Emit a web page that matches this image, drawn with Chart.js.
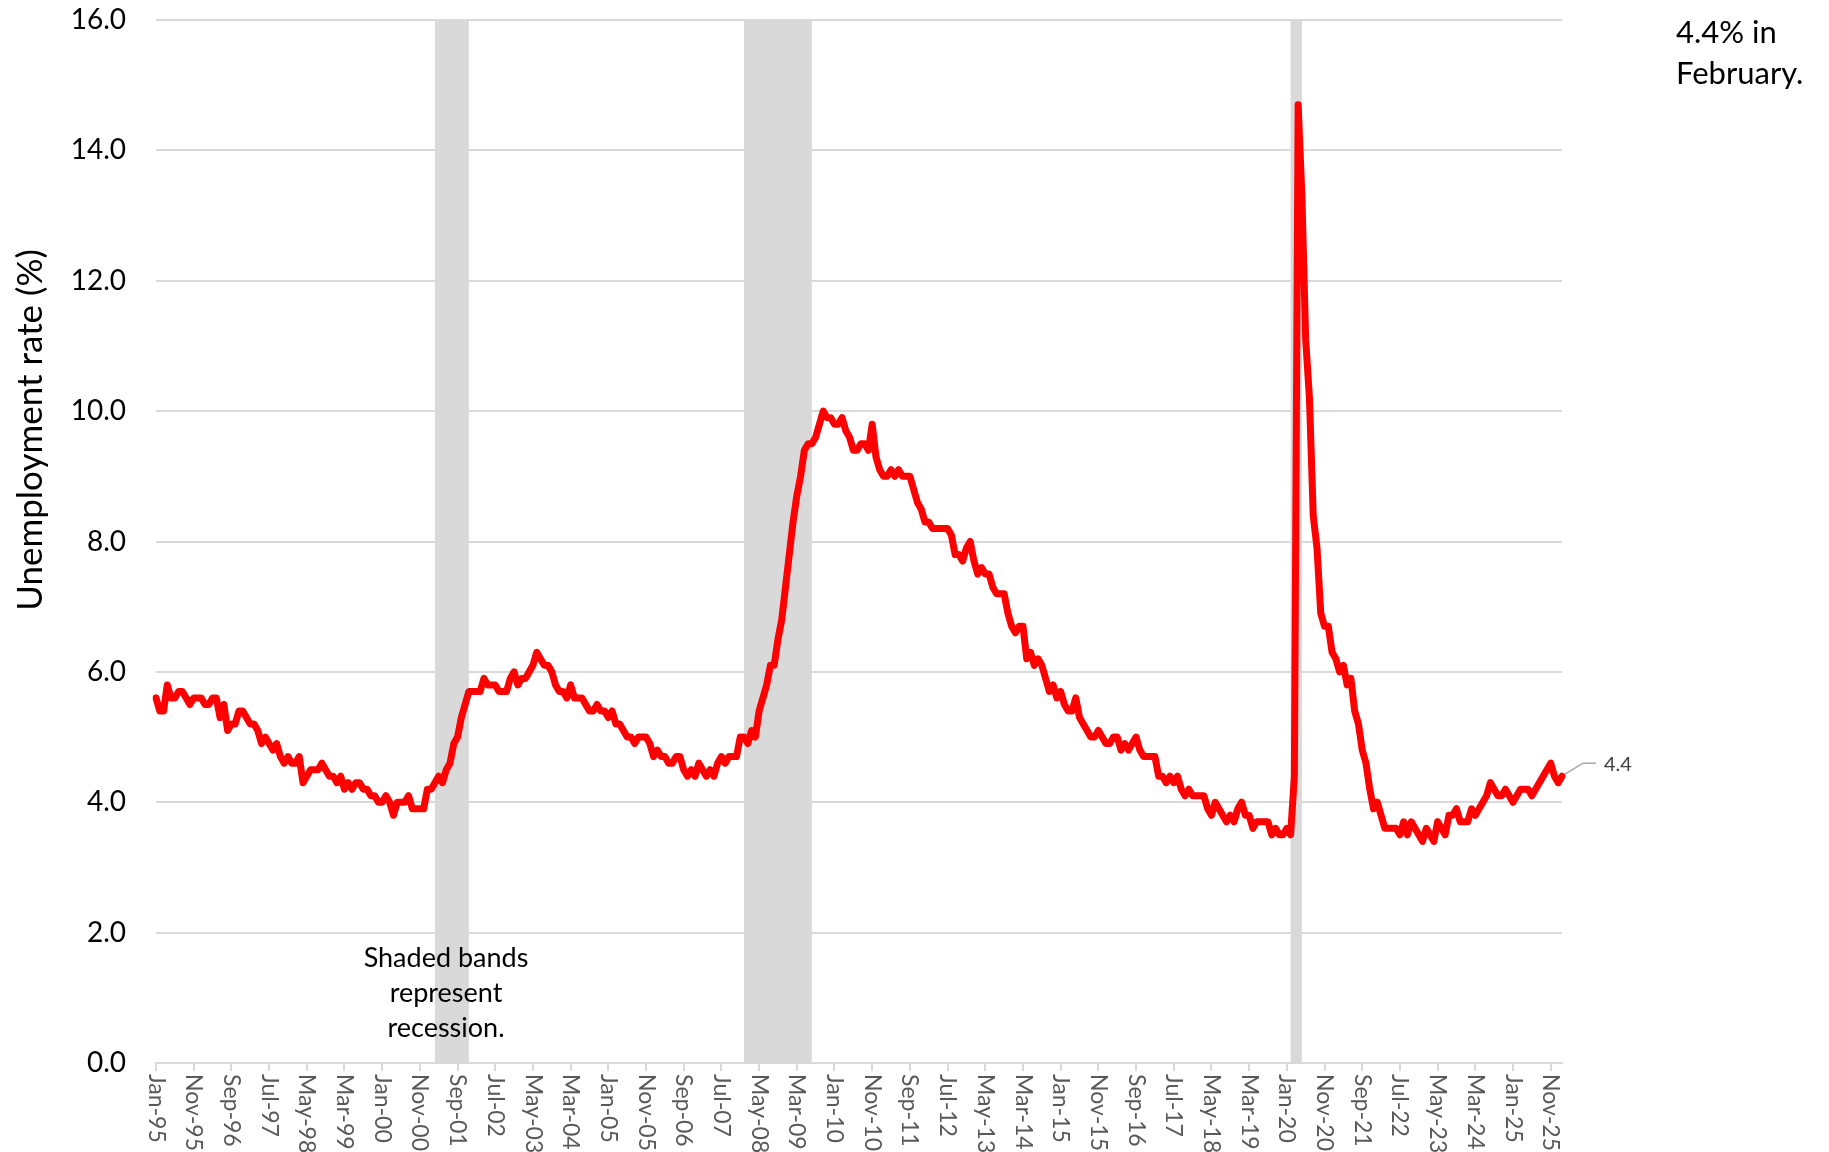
<!DOCTYPE html>
<html lang="en">
<head>
<meta charset="UTF-8">
<title>Unemployment rate</title>
<script src="https://cdn.jsdelivr.net/npm/chart.js"></script>
<style>
    body { margin: 0; background: #fff; overflow: hidden; }
    #chart { display: block; }
</style>
</head>
<body>
<canvas id="chart" width="1829" height="1152"></canvas>
<script>
// month names + first year, categories run Jan-95 .. Feb-26
const monthNames = ['Jan','Feb','Mar','Apr','May','Jun','Jul','Aug','Sep','Oct','Nov','Dec'];
const firstYear = 1995;

// unemployment rate (%), one row per year
const rates = [
    5.6, 5.4, 5.4, 5.8, 5.6, 5.6, 5.7, 5.7, 5.6, 5.5, 5.6, 5.6,   // 1995
    5.6, 5.5, 5.5, 5.6, 5.6, 5.3, 5.5, 5.1, 5.2, 5.2, 5.4, 5.4,   // 1996
    5.3, 5.2, 5.2, 5.1, 4.9, 5.0, 4.9, 4.8, 4.9, 4.7, 4.6, 4.7,   // 1997
    4.6, 4.6, 4.7, 4.3, 4.4, 4.5, 4.5, 4.5, 4.6, 4.5, 4.4, 4.4,   // 1998
    4.3, 4.4, 4.2, 4.3, 4.2, 4.3, 4.3, 4.2, 4.2, 4.1, 4.1, 4.0,   // 1999
    4.0, 4.1, 4.0, 3.8, 4.0, 4.0, 4.0, 4.1, 3.9, 3.9, 3.9, 3.9,   // 2000
    4.2, 4.2, 4.3, 4.4, 4.3, 4.5, 4.6, 4.9, 5.0, 5.3, 5.5, 5.7,   // 2001
    5.7, 5.7, 5.7, 5.9, 5.8, 5.8, 5.8, 5.7, 5.7, 5.7, 5.9, 6.0,   // 2002
    5.8, 5.9, 5.9, 6.0, 6.1, 6.3, 6.2, 6.1, 6.1, 6.0, 5.8, 5.7,   // 2003
    5.7, 5.6, 5.8, 5.6, 5.6, 5.6, 5.5, 5.4, 5.4, 5.5, 5.4, 5.4,   // 2004
    5.3, 5.4, 5.2, 5.2, 5.1, 5.0, 5.0, 4.9, 5.0, 5.0, 5.0, 4.9,   // 2005
    4.7, 4.8, 4.7, 4.7, 4.6, 4.6, 4.7, 4.7, 4.5, 4.4, 4.5, 4.4,   // 2006
    4.6, 4.5, 4.4, 4.5, 4.4, 4.6, 4.7, 4.6, 4.7, 4.7, 4.7, 5.0,   // 2007
    5.0, 4.9, 5.1, 5.0, 5.4, 5.6, 5.8, 6.1, 6.1, 6.5, 6.8, 7.3,   // 2008
    7.8, 8.3, 8.7, 9.0, 9.4, 9.5, 9.5, 9.6, 9.8, 10.0, 9.9, 9.9,  // 2009
    9.8, 9.8, 9.9, 9.7, 9.6, 9.4, 9.4, 9.5, 9.5, 9.4, 9.8, 9.3,   // 2010
    9.1, 9.0, 9.0, 9.1, 9.0, 9.1, 9.0, 9.0, 9.0, 8.8, 8.6, 8.5,   // 2011
    8.3, 8.3, 8.2, 8.2, 8.2, 8.2, 8.2, 8.1, 7.8, 7.8, 7.7, 7.9,   // 2012
    8.0, 7.7, 7.5, 7.6, 7.5, 7.5, 7.3, 7.2, 7.2, 7.2, 6.9, 6.7,   // 2013
    6.6, 6.7, 6.7, 6.2, 6.3, 6.1, 6.2, 6.1, 5.9, 5.7, 5.8, 5.6,   // 2014
    5.7, 5.5, 5.4, 5.4, 5.6, 5.3, 5.2, 5.1, 5.0, 5.0, 5.1, 5.0,   // 2015
    4.9, 4.9, 5.0, 5.0, 4.8, 4.9, 4.8, 4.9, 5.0, 4.8, 4.7, 4.7,   // 2016
    4.7, 4.7, 4.4, 4.4, 4.3, 4.4, 4.3, 4.4, 4.2, 4.1, 4.2, 4.1,   // 2017
    4.1, 4.1, 4.1, 3.9, 3.8, 4.0, 3.9, 3.8, 3.7, 3.8, 3.7, 3.9,   // 2018
    4.0, 3.8, 3.8, 3.6, 3.7, 3.7, 3.7, 3.7, 3.5, 3.6, 3.5, 3.5,   // 2019
    3.6, 3.5, 4.4, 14.7, 13.3, 11.1, 10.2, 8.4, 7.9, 6.9, 6.7, 6.7, // 2020
    6.3, 6.2, 6.0, 6.1, 5.8, 5.9, 5.4, 5.2, 4.8, 4.6, 4.2, 3.9,   // 2021
    4.0, 3.8, 3.6, 3.6, 3.6, 3.6, 3.5, 3.7, 3.5, 3.7, 3.6, 3.5,   // 2022
    3.4, 3.6, 3.5, 3.4, 3.7, 3.6, 3.5, 3.8, 3.8, 3.9, 3.7, 3.7,   // 2023
    3.7, 3.9, 3.8, 3.9, 4.0, 4.1, 4.3, 4.2, 4.1, 4.1, 4.2, 4.1,   // 2024
    4.0, 4.1, 4.2, 4.2, 4.2, 4.1, 4.2, 4.3, 4.4, null, 4.6, 4.4,  // 2025 (no Oct release)
    4.3, 4.4                                                      // 2026
];

// recession bands, as category labels (start, end)
const recessionStart = ['Mar-01', 'Jan-08', 'Feb-20'];
const recessionEnd   = ['Dec-01', 'Jul-09', 'May-20'];

const labelEvery = 10;   // one x label every 10 months

const labels = rates.map((v, i) => {
    const yr = (firstYear + Math.floor(i / 12)) % 100;
    return monthNames[i % 12] + '-' + String(yr).padStart(2, '0');
});

const FONT = 'Lato, "Open Sans", "DejaVu Sans", sans-serif';
Chart.defaults.font.family = FONT;

const extras = {
    id: 'extras',
    beforeDatasetsDraw(chart) {
        const { ctx, chartArea, scales: { x } } = chart;
        ctx.save();
        ctx.fillStyle = '#d9d9d9';
        recessionStart.forEach((s, k) => {
            const x0 = x.getPixelForValue(labels.indexOf(s));
            const x1 = x.getPixelForValue(labels.indexOf(recessionEnd[k]));
            ctx.fillRect(x0, chartArea.top, x1 - x0, chartArea.bottom - chartArea.top);
        });
        ctx.restore();
    },
    afterDraw(chart) {
        const { ctx, chartArea, scales: { x, y } } = chart;
        ctx.save();

        // x labels, reading top to bottom
        ctx.fillStyle = '#595959';
        ctx.font = '23px ' + FONT;
        ctx.textAlign = 'left';
        ctx.textBaseline = 'middle';
        labels.forEach((lab, i) => {
            if (i % labelEvery) return;
            ctx.save();
            ctx.translate(x.getPixelForValue(i), chartArea.bottom + 11);
            ctx.rotate(Math.PI / 2);
            ctx.fillText(lab, 0, 0);
            ctx.restore();
        });

        // y title
        ctx.fillStyle = '#000';
        ctx.font = '35px ' + FONT;
        ctx.save();
        ctx.translate(31, 430);
        ctx.rotate(-Math.PI / 2);
        ctx.textAlign = 'center';
        ctx.textBaseline = 'middle';
        ctx.fillText('Unemployment rate (%)', 0, 0);
        ctx.restore();

        // top-right note
        ctx.font = '31px ' + FONT;
        ctx.textAlign = 'left';
        ctx.textBaseline = 'alphabetic';
        ctx.fillText('4.4% in', 1676, 43);
        ctx.fillText('February.', 1676, 84);

        // recession note
        ctx.font = '27px ' + FONT;
        ctx.textAlign = 'center';
        ['Shaded bands', 'represent', 'recession.'].forEach((t, k) => {
            ctx.fillText(t, 446, 967 + k * 35);
        });

        // last value label with leader line
        const last = rates.length - 1;
        const px = x.getPixelForValue(last);
        const py = y.getPixelForValue(rates[last]);
        ctx.strokeStyle = '#a6a6a6';
        ctx.lineWidth = 1.5;
        ctx.beginPath();
        ctx.moveTo(px + 3, py - 2);
        ctx.lineTo(px + 21, py - 13);
        ctx.lineTo(px + 34, py - 13);
        ctx.stroke();
        ctx.fillStyle = '#404040';
        ctx.font = '20px ' + FONT;
        ctx.textAlign = 'left';
        ctx.textBaseline = 'middle';
        ctx.fillText(rates[last].toFixed(1), px + 42, py - 12);

        ctx.restore();
    }
};

new Chart(document.getElementById('chart'), {
    type: 'line',
    data: {
        labels: labels,
        datasets: [{
            data: rates,
            borderColor: '#ff0000',
            borderWidth: 7,
            pointRadius: 0,
            tension: 0,
            spanGaps: true,
            borderJoinStyle: 'round',
            borderCapStyle: 'round'
        }]
    },
    options: {
        responsive: false,
        animation: false,
        layout: { padding: { top: 20, right: 267, bottom: 0, left: 0 } },
        plugins: { legend: { display: false }, tooltip: { enabled: false } },
        scales: {
            x: {
                type: 'category',
                offset: false,
                ticks: { display: false },
                grid: {
                    drawOnChartArea: false,
                    drawTicks: true,
                    tickLength: 8,
                    lineWidth: 2,
                    color: c => (c.index % labelEvery === 0 ? '#d9d9d9' : 'rgba(0,0,0,0)')
                },
                border: { display: true, color: '#d9d9d9', width: 2 },
                afterFit: s => { s.height = 89; }
            },
            y: {
                min: 0,
                max: 16,
                ticks: {
                    stepSize: 2,
                    padding: 0,
                    color: '#000',
                    font: { size: 28 },
                    callback: v => v.toFixed(1)
                },
                grid: {
                    color: '#d9d9d9',
                    lineWidth: 2,
                    drawTicks: true,
                    tickLength: 30,
                    tickColor: 'rgba(0,0,0,0)'
                },
                border: { display: false },
                afterFit: s => { s.width = 156; }
            }
        }
    },
    plugins: [extras]
});
</script>
</body>
</html>
